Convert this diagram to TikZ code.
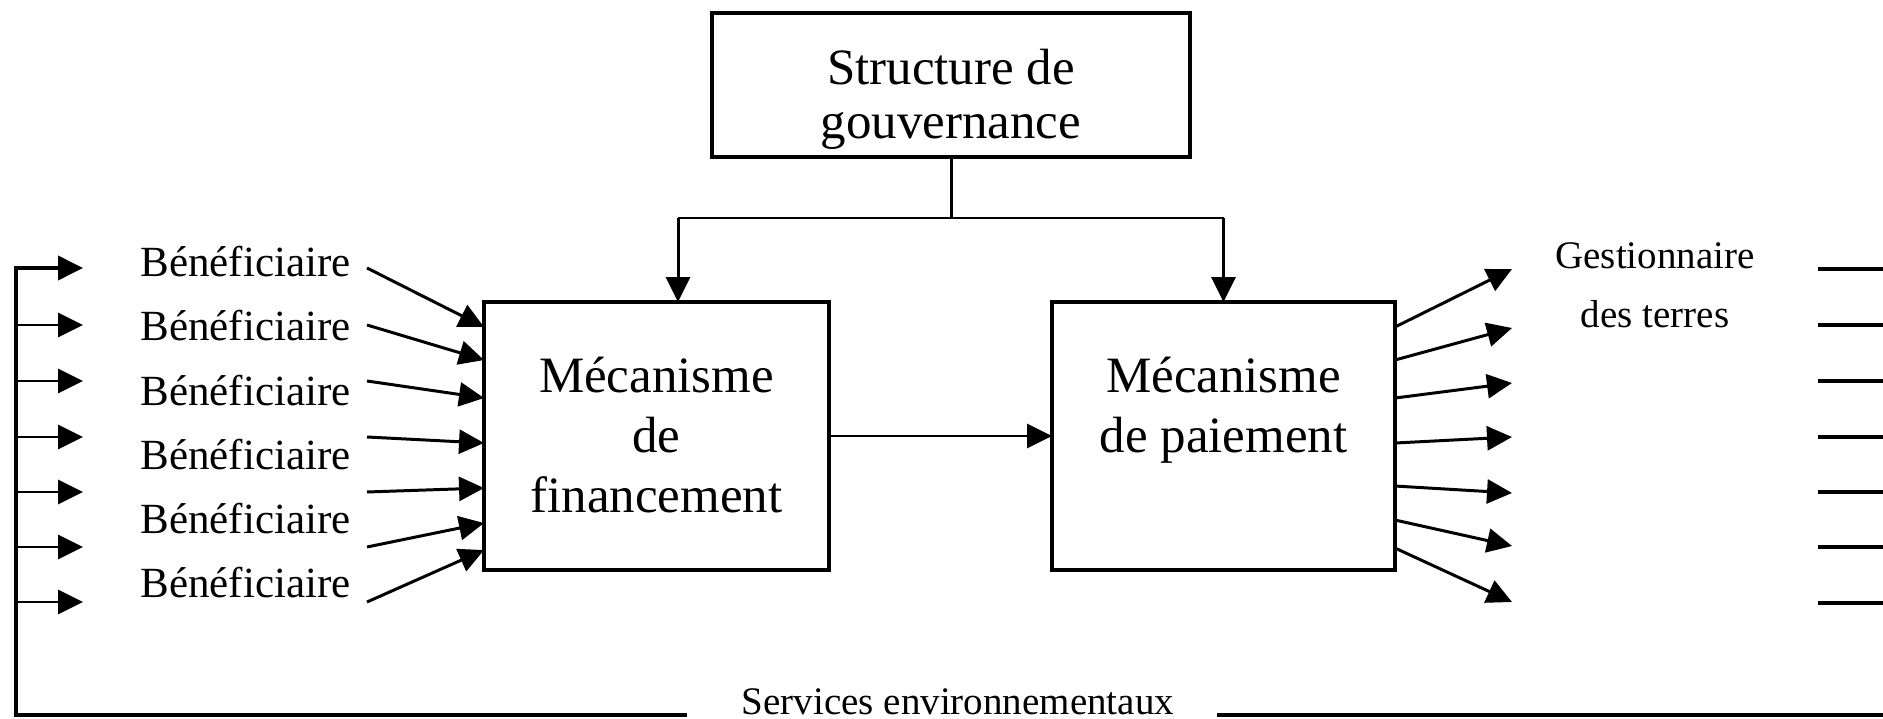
\documentclass[tikz,border=0pt]{standalone}
\usepackage{fontspec}
\setmainfont{Liberation Serif}
\usetikzlibrary{arrows.meta,calc}
\tikzset{
  box/.style={draw, line width=2.4pt, rectangle, outer sep=0pt, inner sep=0pt},
  conn/.style={line width=1.7pt},
  frame/.style={line width=2.2pt},
  tip/.style={-{Triangle[length=0.5cm,width=0.48cm]}},
  arr/.style={conn, tip},
  big/.style={font=\fontsize{29}{35}\selectfont, anchor=base, inner sep=0pt},
  mid/.style={font=\fontsize{24.5}{29}\selectfont, anchor=base west, inner sep=0pt},
  small/.style={font=\fontsize{22.2}{27}\selectfont, anchor=base, inner sep=0pt},
}
\begin{document}
\begin{tikzpicture}[x=0.02cm,y=-0.02cm]
\useasboundingbox (0,0) rectangle (1883,719);

% boxes
\node[box, minimum width=9.56cm, minimum height=2.88cm] (gov) at (951,85) {};
\node[box, minimum width=6.9cm, minimum height=5.36cm] (fin) at (656.5,436) {};
\node[box, minimum width=6.86cm, minimum height=5.36cm] (pay) at (1223.5,436) {};

% box texts
\node[big] (gov1) at (951,85) {Structure de};
\node[big] (gov2) at (951,139) {gouvernance};
\node[big] (fin1) at (656.5,393) {Mécanisme};
\node[big] (fin2) at (656.5,452) {de};
\node[big] (fin3) at (656.5,512) {financement};
\node[big] (pay1) at (1223.5,393) {Mécanisme};
\node[big] (pay2) at (1223.5,453) {de paiement};

% governance connectors
\coordinate (bar) at (951,218);
\coordinate (barL) at (678,218);
\coordinate (barR) at (1223.5,218);
\draw[conn] (gov.south) -- (bar);
\draw[conn] (barL) -- (barR);
\draw[arr] (barL) -- (barL |- fin.north);
\draw[arr] (barR) -- (pay.north);

% financement -> paiement
\draw[arr] (fin.east) -- (pay.west);

% beneficiaire labels
\foreach \i/\y in {1/277,2/341,3/405,4/469,5/533,6/597}{
  \node[mid] (ben\i) at (140,\y) {Bénéficiaire};
}

% left arrows into financement
\foreach \i/\ys/\d in {1/268/25,2/325/58,3/381/96,4/437/141,5/492/186,6/547/221,7/602/248}{
  \coordinate (bs\i) at (367,\ys);
  \draw[arr] (bs\i) -- ($(fin.north west)+(0,\d)$);
}

% right arrows out of paiement
\foreach \i/\yt/\d in {1/269/25,2/328/58,3/383/96,4/437/141,5/493/184,6/546/218,7/602/246}{
  \coordinate (pt\i) at (1512,\yt);
  \draw[arr] ($(pay.north east)+(0,\d)$) -- (pt\i);
}

% gestionnaire label
\node[small] (ges1) at (1655,269) {Gestionnaire};
\node[small] (ges2) at (1655,328) {des terres};

% right short lines
\foreach \i/\y in {1/269,2/325,3/381,4/437,5/492,6/547,7/603}{
  \coordinate (rs\i) at (1818,\y);
  \coordinate (re\i) at (1890,\y);
  \draw[frame] (rs\i) -- (re\i);
}

% feedback frame
\node[small] (serv) at (958,714) {Services environnementaux};
\coordinate (botL) at (687,715);
\coordinate (corner) at (16,715);
\coordinate (ls1) at (16,268);
\coordinate (lt1) at (83,268);
\draw[frame, tip] (botL) -- (corner) -- (ls1) -- (lt1);
\foreach \i/\y in {2/325,3/381,4/437,5/492,6/547,7/602}{
  \coordinate (ls\i) at (16,\y);
  \coordinate (lt\i) at (83,\y);
  \draw[arr] (ls\i) -- (lt\i);
}
\coordinate (botR1) at (1217,715);
\coordinate (botR2) at (1890,715);
\draw[frame] (botR1) -- (botR2);
\end{tikzpicture}
\end{document}
